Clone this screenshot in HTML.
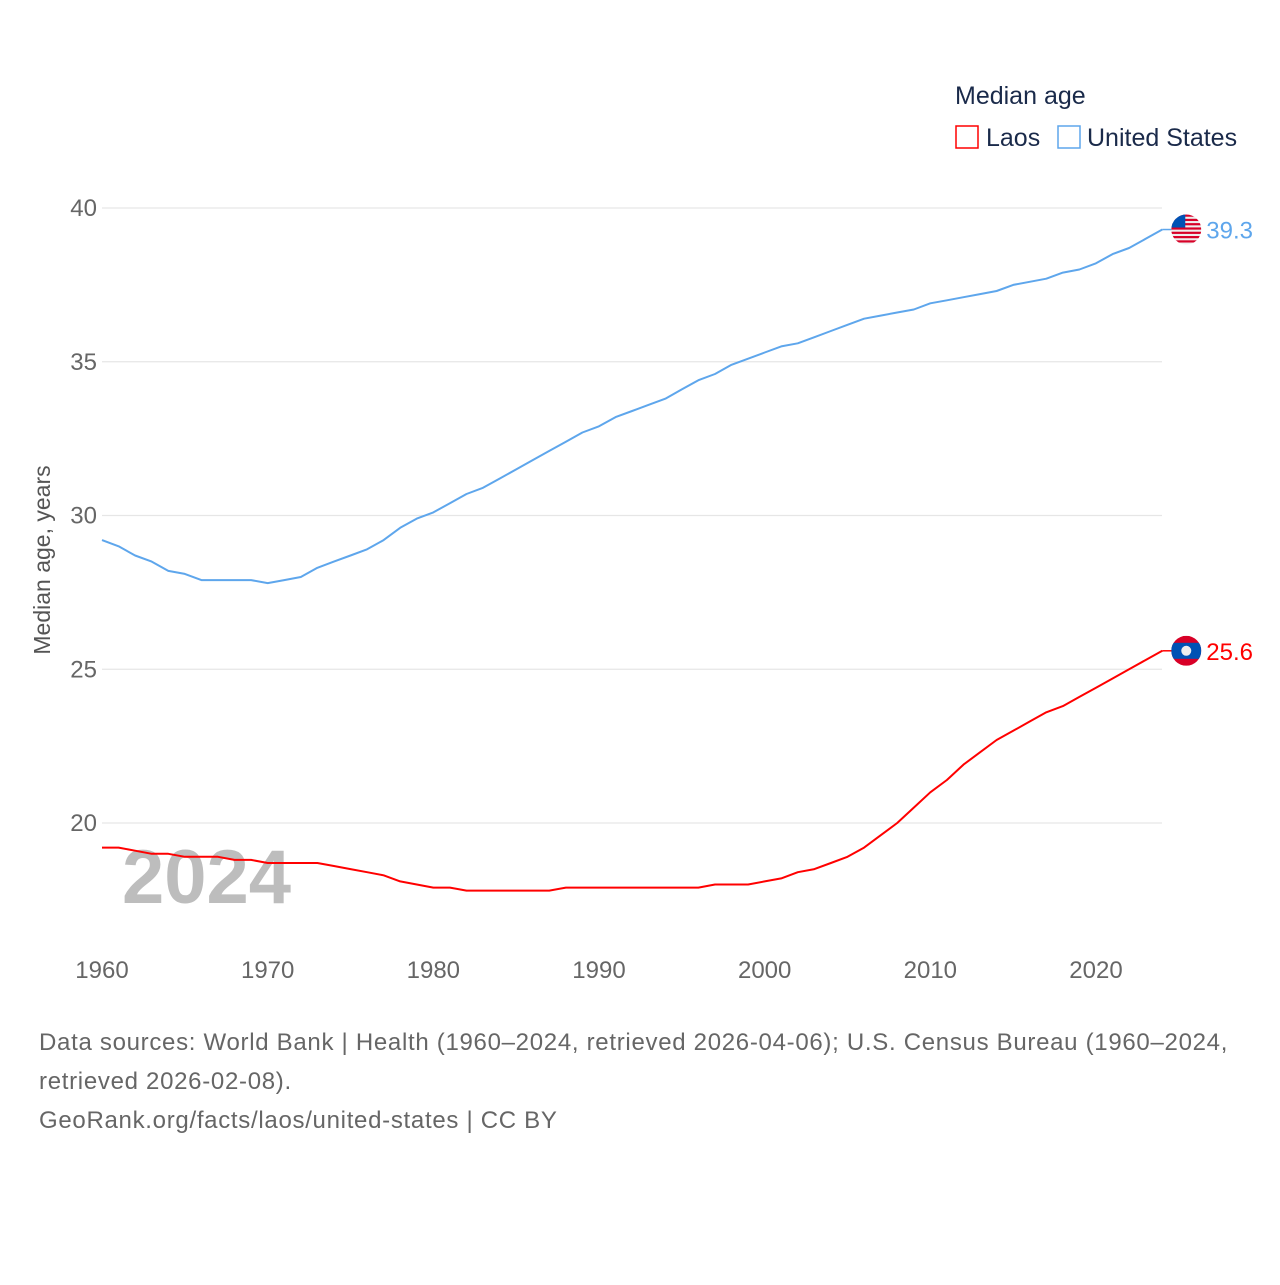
<!DOCTYPE html>
<html><head><meta charset="utf-8"><style>
body{margin:0;background:#fff;font-family:"Liberation Sans",sans-serif}
svg text{font-family:"Liberation Sans",sans-serif}
</style></head><body>
<svg id="chart" width="1280" height="1280" viewBox="0 0 1280 1280">
<g>
<text x="955" y="104" font-size="25" fill="#1a2a4a">Median age</text>
<rect x="956" y="126" width="22" height="22" fill="none" stroke="#f00" stroke-width="1.5"/>
<text x="986" y="146" font-size="25" fill="#1a2a4a">Laos</text>
<rect x="1058" y="126" width="22" height="22" fill="none" stroke="#5ea6ec" stroke-width="1.5"/>
<text x="1087" y="146" font-size="25" fill="#1a2a4a">United States</text>
</g>
<g id="grid"></g>
<g id="yticks"></g>
<g id="xticks"></g>
<text transform="translate(50,560) rotate(-90)" text-anchor="middle" font-size="23" fill="#555">Median age, years</text>
<text x="122" y="903" font-size="76" font-weight="bold" fill="#bdbdbd">2024</text>
<g id="series"></g>
<g font-size="24" fill="#666" letter-spacing="0.7">
<text x="39" y="1050">Data sources: World Bank | Health (1960–2024, retrieved 2026-04-06); U.S. Census Bureau (1960–2024,</text>
<text x="39" y="1089">retrieved 2026-02-08).</text>
<text x="39" y="1128">GeoRank.org/facts/laos/united-states | CC BY</text>
</g>
</svg>
<script>
const years = [];
for (let y = 1960; y <= 2024; y++) years.push(y);
const usValues = [29.2,29.0,28.7,28.5,28.2,28.1,27.9,27.9,27.9,27.9,27.8,27.9,28.0,28.3,28.5,28.7,28.9,29.2,29.6,29.9,30.1,30.4,30.7,30.9,31.2,31.5,31.8,32.1,32.4,32.7,32.9,33.2,33.4,33.6,33.8,34.1,34.4,34.6,34.9,35.1,35.3,35.5,35.6,35.8,36.0,36.2,36.4,36.5,36.6,36.7,36.9,37.0,37.1,37.2,37.3,37.5,37.6,37.7,37.9,38.0,38.2,38.5,38.7,39.0,39.3];
const laosValues = [19.2,19.2,19.1,19.0,19.0,18.9,18.9,18.9,18.8,18.8,18.7,18.7,18.7,18.7,18.6,18.5,18.4,18.3,18.1,18.0,17.9,17.9,17.8,17.8,17.8,17.8,17.8,17.8,17.9,17.9,17.9,17.9,17.9,17.9,17.9,17.9,17.9,18.0,18.0,18.0,18.1,18.2,18.4,18.5,18.7,18.9,19.2,19.6,20.0,20.5,21.0,21.4,21.9,22.3,22.7,23.0,23.3,23.6,23.8,24.1,24.4,24.7,25.0,25.3,25.6];
const yTicks = [20,25,30,35,40];
const xTicks = [1960,1970,1980,1990,2000,2010,2020];

const NS = "http://www.w3.org/2000/svg";
const xS = v => 102 + (v - 1960) * (994 / 60);
const yS = v => 208 + (40 - v) * 30.75;
function mk(tag, attrs, parent){const e=document.createElementNS(NS,tag);for(const k in attrs)e.setAttribute(k,attrs[k]);parent.appendChild(e);return e;}
const grid=document.getElementById('grid'), yt=document.getElementById('yticks'), xt=document.getElementById('xticks'), ser=document.getElementById('series');
yTicks.forEach(t=>{
  const l=mk('line',{x1:102,x2:1162,y1:yS(t),y2:yS(t),stroke:'#e6e6e6','stroke-width':1.3},grid);
  
  
  const tx=mk('text',{x:97,y:yS(t)+8,'text-anchor':'end','font-size':24,fill:'#666'},yt);
  tx.textContent=t;
  
  
});
xTicks.forEach(t=>{
  const tx=mk('text',{x:xS(t),y:978,'text-anchor':'middle','font-size':24,fill:'#666'},xt);
  tx.textContent=t;
  
  
});
function drawSeries(vals,color,name){
  const pts=vals.map((v,i)=>xS(years[i]).toFixed(1)+','+yS(v).toFixed(1)).join(' ');
  const p=mk('polyline',{points:pts,fill:'none',stroke:color,'stroke-width':2,'stroke-linejoin':'round'},ser);
  
  
  const last=vals[vals.length-1], ly=yS(last), lx=xS(years[years.length-1]);
  const c=mk('line',{x1:lx,x2:lx+12,y1:ly,y2:ly,stroke:color,'stroke-width':1.5},ser);
  
  
  const t=mk('text',{x:lx+44,y:ly+9,'font-size':24,fill:color},ser);
  t.textContent=last.toFixed(1);
  
  
  return {cx:lx+24,cy:ly};
}
const us=drawSeries(usValues,'#5ea6ec','us');
const la=drawSeries(laosValues,'#ff0000','laos');
(function(){
  const g=mk('g',{},ser);
  
  
  const cp=mk('clipPath',{id:'cu'},g);mk('circle',{cx:us.cx,cy:us.cy,r:15},cp);
  const gg=mk('g',{'clip-path':'url(#cu)'},g);
  mk('rect',{x:us.cx-15,y:us.cy-15,width:30,height:30,fill:'#eee'},gg);
  for(let i=0;i<7;i++) mk('rect',{x:us.cx-15,y:us.cy-15+i*4.3,width:30,height:2.2,fill:'#d80027'},gg);
  mk('rect',{x:us.cx-15,y:us.cy-15,width:14,height:13,fill:'#0052b4'},gg);
})();
(function(){
  const g=mk('g',{},ser);
  
  
  const cp=mk('clipPath',{id:'cl'},g);mk('circle',{cx:la.cx,cy:la.cy,r:15},cp);
  const gg=mk('g',{'clip-path':'url(#cl)'},g);
  mk('rect',{x:la.cx-15,y:la.cy-15,width:30,height:30,fill:'#d80027'},gg);
  mk('rect',{x:la.cx-15,y:la.cy-8,width:30,height:16,fill:'#0052b4'},gg);
  mk('circle',{cx:la.cx,cy:la.cy,r:5,fill:'#eee'},gg);
})();
</script>
</body></html>
